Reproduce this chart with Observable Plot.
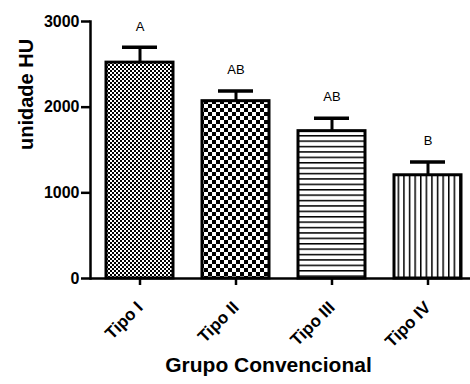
<!DOCTYPE html>
<html>
<head>
<meta charset="utf-8">
<script src="https://cdn.jsdelivr.net/npm/d3@7"></script>
<script src="https://cdn.jsdelivr.net/npm/@observablehq/plot@0.6"></script>
<style>
  html, body { margin: 0; padding: 0; background: #fff; }
  #chart svg { display: block; }
</style>
</head>
<body>
<div id="chart"></div>
<script>
const categories = ["Tipo I", "Tipo II", "Tipo III", "Tipo IV"];
const means = [2520, 2070, 1720, 1205];
const errors = [178, 120, 152, 155];
const letters = ["A", "AB", "AB", "B"];
const patternIds = ["p1", "p2", "p3", "p4"];
const yTicks = [0, 1000, 2000, 3000];
const xTitle = "Grupo Convencional";
const yTitle = "unidade HU";

const data = categories.map((c, i) => ({
  cat: c, mean: means[i], top: means[i] + errors[i],
  letter: letters[i], fill: `url(#${patternIds[i]})`
}));

const font = "'Liberation Sans', Arial, sans-serif";

const plot = Plot.plot({
  width: 470,
  height: 384,
  marginTop: 21,
  marginBottom: 106,
  marginLeft: 90,
  marginRight: 0,
  style: { fontFamily: font, background: "#fff", color: "#000" },
  x: { domain: categories, range: [90, 477], paddingInner: 0.3, paddingOuter: 0.15, label: null },
  y: { domain: [0, 3000], label: null },
  color: { type: "identity" },
  marks: [
    Plot.barY(data, { x: "cat", y: "mean", fill: "fill", stroke: "#000", strokeWidth: 3 }),
    Plot.ruleX(data, { x: "cat", y1: "mean", y2: "top", stroke: "#000", strokeWidth: 3 }),
    Plot.tickY(data, { x: "cat", y: "top", stroke: "#000", strokeWidth: 3.5, insetLeft: 16, insetRight: 16 }),
    Plot.text(data, { x: "cat", y: "top", text: "letter", dy: -21, fontSize: 13, fill: "#000" }),
    Plot.frame({ anchor: "left", stroke: "#000", strokeWidth: 2.5 }),
    Plot.ruleY([0], { stroke: "#000", strokeWidth: 2.5 }),
    Plot.axisY({ ticks: yTicks, tickSize: 9, tickPadding: 2, strokeWidth: 2.5, fontSize: 16, fontWeight: "bold", letterSpacing: 0.6, label: null, tickFormat: d => String(d) }),
    Plot.axisX({ tickSize: 7, strokeWidth: 2.5, tickFormat: () => null, label: null }),
    Plot.axisX({ tickSize: 0, tickPadding: 11, tickRotate: -45, fontSize: 17, fontWeight: "bold", dx: 0, dy: 15, label: null }),
    Plot.text([xTitle], { frameAnchor: "bottom", text: d => d, dy: 93, dx: -12, fontSize: 21, fontWeight: "bold", letterSpacing: 0.6, fill: "#000" }),
    Plot.text([yTitle], { frameAnchor: "left", text: d => d, rotate: -90, dx: -64, fontSize: 20, fontWeight: "bold", fill: "#000" })
  ]
});

// pattern definitions
const ns = "http://www.w3.org/2000/svg";
const defs = document.createElementNS(ns, "defs");
function pattern(id, w, h, shapes) {
  const p = document.createElementNS(ns, "pattern");
  p.setAttribute("id", id);
  p.setAttribute("patternUnits", "userSpaceOnUse");
  p.setAttribute("width", w);
  p.setAttribute("height", h);
  const bg = document.createElementNS(ns, "rect");
  bg.setAttribute("width", w); bg.setAttribute("height", h); bg.setAttribute("fill", "#fff");
  p.appendChild(bg);
  for (const s of shapes) {
    const r = document.createElementNS(ns, "rect");
    r.setAttribute("x", s[0]); r.setAttribute("y", s[1]);
    r.setAttribute("width", s[2]); r.setAttribute("height", s[3]);
    r.setAttribute("fill", "#000");
    p.appendChild(r);
  }
  defs.appendChild(p);
}
pattern("p1", 4, 4, [[0, 0, 2, 2], [2, 2, 2, 2]]);
pattern("p2", 8, 8, [[0, 0, 4, 4], [4, 4, 4, 4]]);
pattern("p3", 5.4, 5.4, [[0, 0, 5.4, 1.5]]);
pattern("p4", 5.6, 5.6, [[0, 0, 1.5, 5.6]]);
plot.insertBefore(defs, plot.firstChild);

document.getElementById("chart").appendChild(plot);
</script>
</body>
</html>
